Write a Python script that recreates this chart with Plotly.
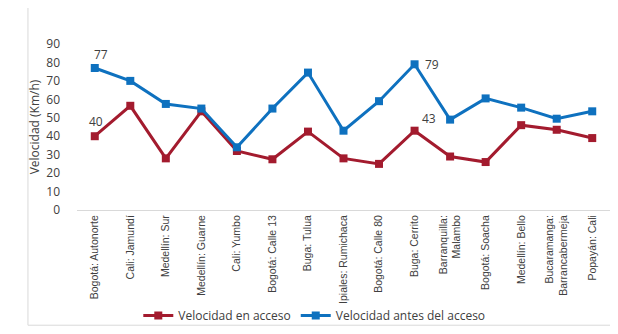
import plotly.graph_objects as go

categories = ["Bogotá: Autonorte", "Cali: Jamundí", "Medellín: Sur", "Medellín: Guarne",
              "Cali: Yumbo", "Bogotá: Calle 13", "Buga: Tulua", "Ipiales: Rumichaca",
              "Bogotá: Calle 80", "Buga: Cerrito", "Barranquilla:<br>Malambo", "Bogotá: Soacha",
              "Medellín: Bello", "Bucaramanga:<br>Barrancabermeja", "Popayán: Cali"]

vel_acceso = [40, 56.5, 28, 53.5, 32, 27.5, 42.5, 28, 25, 43, 29, 26, 46, 43.5, 39]
vel_antes = [77, 70, 57.5, 55, 34, 55, 74.5, 43, 59, 79, 49, 60.5, 55.5, 49.5, 53.5]

red = "#A31B2E"
blue = "#0E71BF"

fig = go.Figure()
fig.add_trace(go.Scatter(x=categories, y=vel_acceso, mode="lines+markers",
                         name="Velocidad en acceso",
                         line=dict(color=red, width=3),
                         marker=dict(symbol="square", size=8, color=red)))
fig.add_trace(go.Scatter(x=categories, y=vel_antes, mode="lines+markers",
                         name="Velocidad antes del acceso",
                         line=dict(color=blue, width=3),
                         marker=dict(symbol="square", size=8, color=blue)))

lab_font = dict(family="Open Sans, Arial", size=12, color="#404040")
fig.add_annotation(x=categories[0], y=vel_antes[0], text="77", showarrow=False,
                   xshift=6, yshift=13, font=lab_font)
fig.add_annotation(x=categories[0], y=vel_acceso[0], text="40", showarrow=False,
                   xshift=1, yshift=15, font=lab_font)
fig.add_annotation(x=categories[9], y=vel_antes[9], text="79", showarrow=False,
                   xshift=17, yshift=0, font=lab_font)
fig.add_annotation(x=categories[9], y=vel_acceso[9], text="43", showarrow=False,
                   xshift=14, yshift=12, font=lab_font)

fig.update_layout(
    width=618, height=334,
    margin=dict(l=69, r=16, t=36, b=125),
    paper_bgcolor="white", plot_bgcolor="white",
    showlegend=True,
    legend=dict(orientation="h", x=0.115, xanchor="left", y=-0.635, yanchor="middle",
                bgcolor="rgba(0,0,0,0)",
                font=dict(family="Open Sans, Arial", size=12, color="#404040"),
                itemwidth=30, tracegroupgap=0),
    xaxis=dict(type="category", range=[-0.5, 14.5], tickangle=-90, automargin=False,
               showline=True, linecolor="#D9D9D9", linewidth=1,
               ticks="", showgrid=False,
               tickfont=dict(family="Liberation Sans, Arial", size=10.5, color="#404040")),
    yaxis=dict(range=[0, 90], dtick=10, showgrid=False, zeroline=False, showline=False,
               ticks="", automargin=False, ticklabelstandoff=16,
               tickfont=dict(family="Open Sans, Arial", size=12, color="#404040"),
               title=dict(text="Velocidad (Km/h)", standoff=4,
                          font=dict(family="Open Sans, Arial", size=12, color="#404040"))),
    shapes=[dict(type="rect", xref="paper", yref="paper", x0=-0.092, x1=1.017,
                 y0=-0.694, y1=1.3, line=dict(color="#D9D9D9", width=1))],
)

fig.write_html("out.html")
